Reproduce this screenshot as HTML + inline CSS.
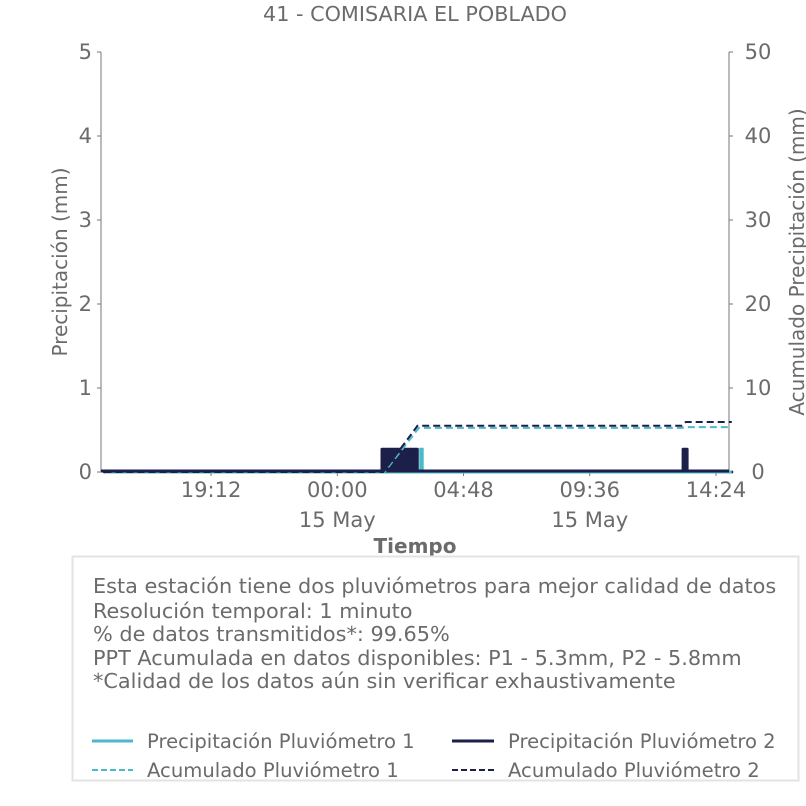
<!DOCTYPE html>
<html><head><meta charset="utf-8"><style>
body{margin:0;background:#fff;}
svg{display:block;font-family:"DejaVu Sans","Liberation Sans",sans-serif;}
text{fill:#6b6b6b;}
</style></head><body>
<svg id="chart" width="806" height="806" viewBox="0 0 806 806">
<rect width="806" height="806" fill="#fff"/>
<text x="415" y="21" font-size="20" text-anchor="middle" textLength="304" lengthAdjust="spacingAndGlyphs">41 - COMISARIA EL POBLADO</text>
<g id="axes"></g>
<g id="series"></g>
<text x="0" y="0" font-size="20" text-anchor="middle" transform="translate(67,262) rotate(-90)">Precipitación (mm)</text>
<text x="0" y="0" font-size="20" text-anchor="middle" transform="translate(804,262) rotate(-90)">Acumulado Precipitación (mm)</text>
<text x="415" y="553" font-size="20" font-weight="bold" text-anchor="middle">Tiempo</text>
<rect x="72.5" y="556.5" width="726" height="224" fill="#fff" stroke="#e3e3e3" stroke-width="2"/>
<g font-size="20.8">
<text x="93" y="593">Esta estación tiene dos pluviómetros para mejor calidad de datos</text>
<text x="93" y="618">Resolución temporal: 1 minuto</text>
<text x="93" y="641">% de datos transmitidos*: 99.65%</text>
<text x="93" y="665">PPT Acumulada en datos disponibles: P1 - 5.3mm, P2 - 5.8mm</text>
<text x="93" y="688">*Calidad de los datos aún sin verificar exhaustivamente</text>
</g>
<g font-size="19.6">
<line x1="92" y1="741" x2="133" y2="741" stroke="#4bbac8" stroke-width="3"/>
<text x="147" y="748">Precipitación Pluviómetro 1</text>
<line x1="92" y1="770" x2="133" y2="770" stroke="#4bbac8" stroke-width="2" stroke-dasharray="6,3"/>
<text x="147" y="777">Acumulado Pluviómetro 1</text>
<line x1="452" y1="741" x2="494" y2="741" stroke="#1c1f4a" stroke-width="3"/>
<text x="508" y="748">Precipitación Pluviómetro 2</text>
<line x1="452" y1="770" x2="494" y2="770" stroke="#1c1f4a" stroke-width="2" stroke-dasharray="6,3"/>
<text x="508" y="777">Acumulado Pluviómetro 2</text>
</g>
</svg>
<script>
// hours relative to 00:00 15 May
const xTickHours = [-4.8, 0, 4.8, 9.6, 14.4];
const xTickLabels = ["19:12", "00:00", "04:48", "09:36", "14:24"];
const leftTicks = [0, 1, 2, 3, 4, 5];
const rightTicks = [0, 10, 20, 30, 40, 50];
const p1Times = [-8.85, 3.17, 3.17, 3.23, 3.23, 15.0];
const p1Vals  = [0, 0, 0.27, 0.27, 0, 0];
const p2Times = [-8.85, 1.70, 1.70, 3.04, 3.04, 13.15, 13.15, 13.30, 13.30, 15.0];
const p2Vals  = [0, 0, 0.27, 0.27, 0, 0, 0.27, 0.27, 0, 0];
const acum1Times = [-8.85, 1.80, 3.10, 13.10, 13.25, 15.0];
const acum1Vals  = [0, 0, 5.25, 5.25, 5.35, 5.35];
const acum2Times = [-8.85, 1.75, 3.05, 13.10, 13.25, 15.0];
const acum2Vals  = [0, 0, 5.5, 5.5, 5.95, 5.95];

const L=101, R=729, T=52, B=472;
function x(h){ return 337.3 + h*26.3; }
function yL(v){ return B - v*(B-T)/5; }
function yR(v){ return B - v*(B-T)/50; }
const NS="http://www.w3.org/2000/svg";
function mk(tag, attrs, parent){ const e=document.createElementNS(NS,tag); for(const k in attrs) e.setAttribute(k,attrs[k]); parent.appendChild(e); return e; }
const axes=document.getElementById('axes'), ser=document.getElementById('series');

const la=mk('line',{x1:L,y1:T,x2:L,y2:B,stroke:'#777','stroke-width':1},axes);


const ra=mk('line',{x1:R,y1:T,x2:R,y2:B,stroke:'#777','stroke-width':1},axes);


const ba=mk('line',{x1:L,y1:B,x2:R,y2:B,stroke:'#777','stroke-width':1},axes);



leftTicks.forEach(v=>{
  const t=mk('line',{x1:L-4,y1:yL(v),x2:L,y2:yL(v),stroke:'#777'},axes);
  
  
  const tx=mk('text',{x:L-9,y:yL(v)+7,'font-size':21,'text-anchor':'end'},axes);
  tx.textContent=v;
  
  
});
rightTicks.forEach(v=>{
  const t=mk('line',{x1:R,y1:yR(v),x2:R+4,y2:yR(v),stroke:'#777'},axes);
  
  
  const tx=mk('text',{x:R+29,y:yR(v)+7,'font-size':21,'text-anchor':'middle'},axes);
  tx.textContent=v;
  
  
});
xTickHours.forEach((h,i)=>{
  const t=mk('line',{x1:x(h),y1:B,x2:x(h),y2:B+4,stroke:'#777'},axes);
  
  
  const tx=mk('text',{x:x(h),y:B+25,'font-size':21,'text-anchor':'middle'},axes);
  tx.textContent=xTickLabels[i];
  
  
});
[0,9.6].forEach(h=>{
  const tx=mk('text',{x:x(h),y:B+55,'font-size':21,'text-anchor':'middle'},axes);
  tx.textContent='15 May';
  
  
});

function pts(ts,vs,yf){ return ts.map((t,i)=>x(t).toFixed(1)+','+yf(vs[i]).toFixed(1)).join(' '); }
const p2=mk('polygon',{points:pts(p2Times,p2Vals,yL),fill:'#1c1f4a',stroke:'#1c1f4a','stroke-width':3,'stroke-linejoin':'round'},ser);


const p1=mk('polyline',{points:pts(p1Times,p1Vals,yL),fill:'none',stroke:'#4bbac8','stroke-width':3},ser);


const base=mk('line',{x1:L,y1:B-1,x2:R,y2:B-1,stroke:'#1c1f4a','stroke-width':3},ser);


const a1=mk('polyline',{points:pts(acum1Times,acum1Vals,yR),fill:'none',stroke:'#4bbac8','stroke-width':2,'stroke-dasharray':'7,4'},ser);


const a2=mk('polyline',{points:pts(acum2Times,acum2Vals,yR),fill:'none',stroke:'#1c1f4a','stroke-width':2,'stroke-dasharray':'7,4'},ser);


</script>
</body></html>
